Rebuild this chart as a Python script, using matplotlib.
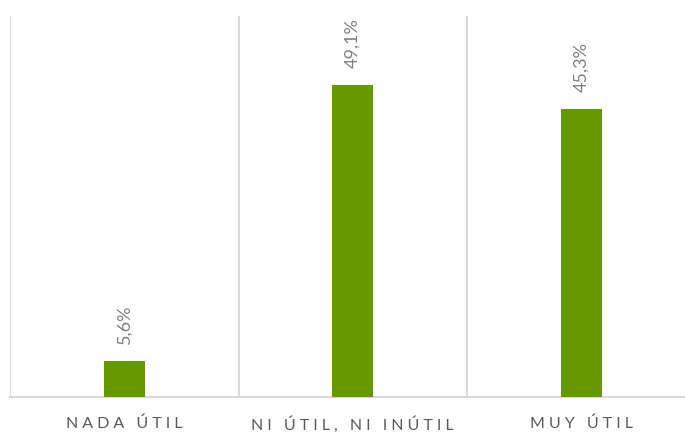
import numpy as np
import matplotlib
matplotlib.use("Agg")
import matplotlib.pyplot as plt

# data
categories = ["NADA ÚTIL", "NI ÚTIL, NI INÚTIL", "MUY ÚTIL"]
values = [5.6, 49.1, 45.3]
value_labels = ["5,6%", "49,1%", "45,3%"]

bar_color = "#669900"
grid_color = "#d9d9d9"
text_color = "#808080"


def spaced(text, gap="\u2009\u2009"):
    # imitate the letter spacing of the original category labels
    return gap.join(text)


fig = plt.figure(figsize=(6.85, 4.35), dpi=100)
ax = fig.add_axes([10 / 685, 37 / 435, 685.5 / 685, 381 / 435])

x = np.arange(len(categories))
ax.bar(x, values, width=0.18, color=bar_color, zorder=3)

for xi, v, lab in zip(x, values, value_labels):
    ax.annotate(lab, (xi, v), xytext=(0, 13), textcoords="offset points",
                rotation=90, ha="center", va="bottom", fontsize=13,
                color=text_color, family=["Lato", "DejaVu Sans"])

ax.set_xlim(-0.5, len(categories) - 0.5)
ax.set_ylim(0, 60)

# vertical separators between categories
for b in np.arange(len(categories) + 1) - 0.5:
    ax.axvline(b, color=grid_color, lw=1.5, zorder=1)

for s in ["top", "right", "left"]:
    ax.spines[s].set_visible(False)
ax.spines["bottom"].set_color(grid_color)
ax.spines["bottom"].set_linewidth(1.5)

ax.set_yticks([])
ax.set_xticks(x)
ax.set_xticklabels([spaced(c) for c in categories], fontsize=11.5,
                   color="#595959", family=["Lato", "DejaVu Sans"])
ax.tick_params(axis="x", length=0, pad=13)

fig.savefig("out.png", dpi=100)
